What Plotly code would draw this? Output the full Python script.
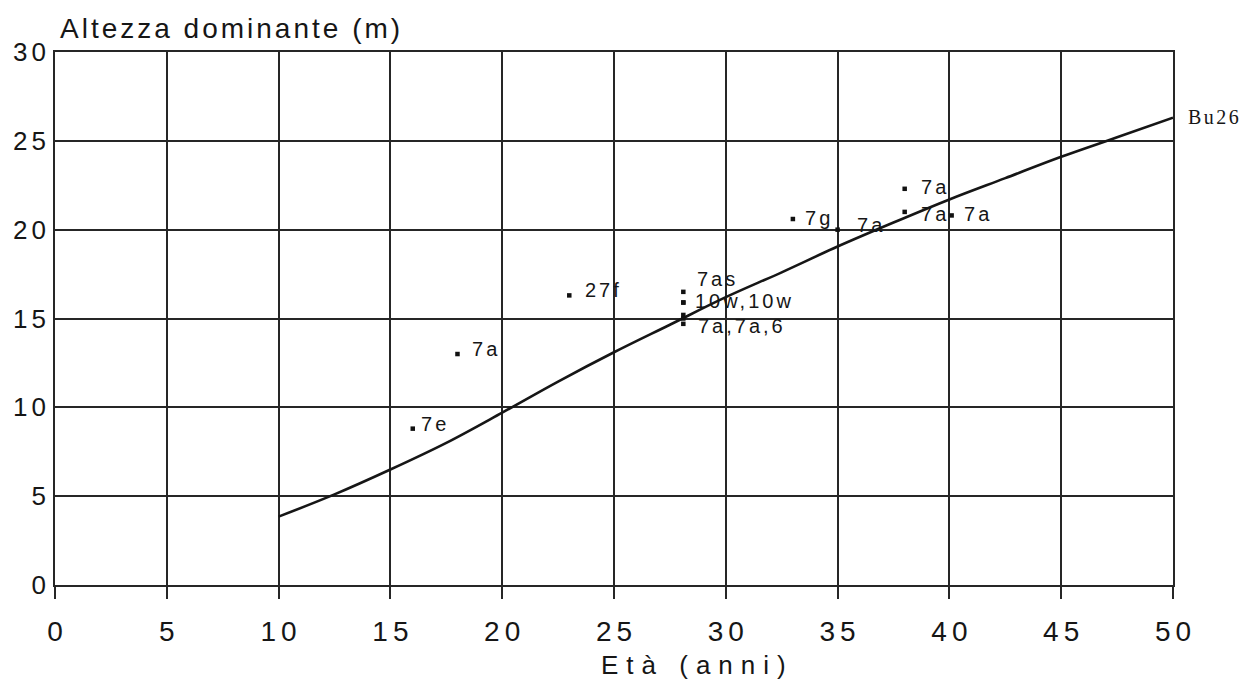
import plotly.graph_objects as go

# Curve Bu26 (age, dominant height)
curve_age = [10, 12.5, 15, 17.5, 20, 22.5, 25, 27.5, 30, 32.5, 35, 37.5, 40, 42.5, 45, 47.5, 50]
curve_h = [3.85, 5.1, 6.5, 8.0, 9.7, 11.45, 13.1, 14.65, 16.2, 17.6, 19.05, 20.4, 21.7, 22.9, 24.1, 25.2, 26.3]

# Observed plots
pt_age = [16.0, 18.0, 23.0, 28.1, 28.1, 28.1, 28.1, 28.1, 28.1, 33.0, 35.0, 38.0, 38.0, 40.1]
pt_h = [8.8, 13.0, 16.3, 16.5, 15.9, 15.9, 15.2, 15.0, 14.7, 20.6, 20.0, 22.3, 21.0, 20.8]

# Label anchors (left edge of each label)
lab_text = ["7e", "7a", "27f", "7as", "10w,10w", "7a,7a,6", "7g", "7a", "7a", "7a", "7a"]
lab_age = [16.3, 18.55, 23.6, 28.6, 28.55, 28.65, 33.45, 35.8, 38.65, 38.65, 40.55]
lab_h = [9.05, 13.3, 16.6, 17.2, 16.0, 14.6, 20.65, 20.25, 22.4, 20.9, 20.9]

x_ticks = [0, 5, 10, 15, 20, 25, 30, 35, 40, 45, 50]
y_ticks = [0, 5, 10, 15, 20, 25, 30]

font = "Liberation Sans, Arial, sans-serif"
ink = "#161616"
grid = "#262626"


def spaced(s, px):
    s = str(s)
    if len(s) < 2:
        return s
    return '<span style="letter-spacing:%spx">%s</span>%s' % (px, s[:-1], s[-1])


fig = go.Figure()
fig.add_trace(go.Scatter(x=curve_age, y=curve_h, mode="lines",
                         line=dict(color=ink, width=2.6, shape="spline", smoothing=1.0),
                         hoverinfo="skip", showlegend=False))
fig.add_trace(go.Scatter(x=pt_age, y=pt_h, mode="markers",
                         marker=dict(symbol="square", size=4.5, color="#111"), showlegend=False))

for t, xa, ya in zip(lab_text, lab_age, lab_h):
    fig.add_annotation(x=xa, y=ya, text=spaced(t, 3), showarrow=False, xanchor="left", yanchor="middle",
                       font=dict(family=font, size=20, color=ink))

fig.add_annotation(x=curve_age[-1], y=curve_h[-1], text=spaced("Bu26", 2.5), showarrow=False,
                   xanchor="left", yanchor="middle", xshift=13, yshift=1,
                   font=dict(family="Liberation Serif, serif", size=20, color=ink))

fig.add_annotation(x=0, y=1, xref="paper", yref="paper", text=spaced("Altezza dominante (m)", 3),
                   showarrow=False, xanchor="left", yanchor="bottom", xshift=3, yshift=6,
                   font=dict(family=font, size=28, color=ink))

fig.add_annotation(x=0.571, y=0, xref="paper", yref="paper", text=spaced("Età (anni)", 8),
                   showarrow=False, xanchor="center", yanchor="middle", yshift=-80,
                   font=dict(family=font, size=26, color=ink))

fig.update_layout(
    width=1242, height=678,
    margin=dict(l=47, r=77, t=44, b=101),
    paper_bgcolor="white", plot_bgcolor="white",
    xaxis=dict(range=[0, 50], tickvals=x_ticks, ticktext=[spaced(v, 5) for v in x_ticks],
               showgrid=True, gridcolor=grid, gridwidth=1.5, automargin=False,
               zeroline=False, showline=True, linecolor=grid, linewidth=1.5, mirror=True,
               ticks="outside", ticklen=12, tickcolor=grid, tickwidth=1.5, ticklabelstandoff=9,
               tickfont=dict(family=font, size=28, color=ink)),
    yaxis=dict(range=[0, 30], tickvals=y_ticks, ticktext=[spaced(v, 4) for v in y_ticks],
               showgrid=True, gridcolor=grid, gridwidth=1.5, automargin=False,
               zeroline=False, showline=True, linecolor=grid, linewidth=1.5, mirror=True,
               ticks="", ticklabelstandoff=2,
               tickfont=dict(family=font, size=26, color=ink)),
)

fig.write_html("out.html")
